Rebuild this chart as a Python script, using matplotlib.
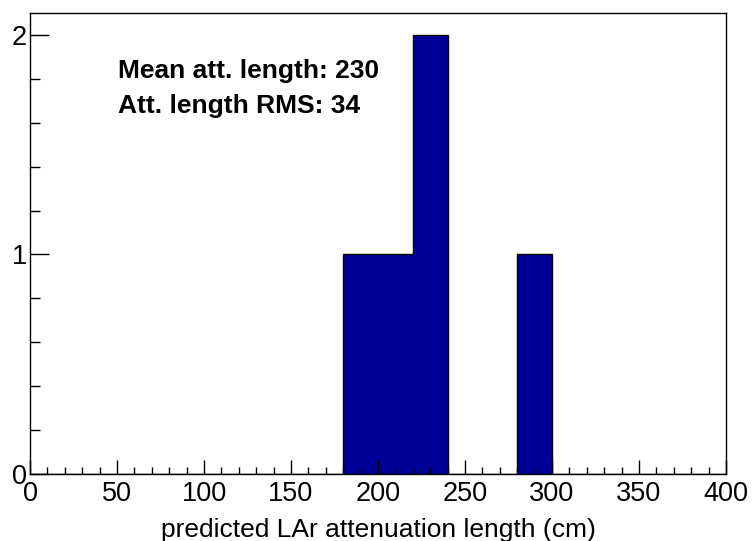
import matplotlib
matplotlib.use("Agg")
import matplotlib.pyplot as plt
from matplotlib.ticker import MultipleLocator

bin_edges = [0, 20, 40, 60, 80, 100, 120, 140, 160, 180, 200,
             220, 240, 260, 280, 300, 320, 340, 360, 380, 400]
counts = [0, 0, 0, 0, 0, 0, 0, 0, 0, 1, 1, 2, 0, 0, 1, 0, 0, 0, 0, 0]
x_label = "predicted LAr attenuation length (cm)"
stats_lines = ["Mean att. length: 230", "Att. length RMS: 34"]

plt.rcParams['font.family'] = ['Liberation Sans', 'DejaVu Sans']

W, H = 752, 541
fig = plt.figure(figsize=(W/100, H/100), dpi=100)
ax = fig.add_axes([30/W, 1 - 474/H, (726-30)/W, (474-13)/H])

ax.stairs(counts, bin_edges, fill=True, color='#000099', zorder=1)
ax.stairs(counts, bin_edges, fill=False, color='black', linewidth=1.0, zorder=1.2)

ax.set_xlim(0, 400)
ax.set_ylim(0, 2.1)

ax.xaxis.set_major_locator(MultipleLocator(50))
ax.xaxis.set_minor_locator(MultipleLocator(10))
ax.yaxis.set_major_locator(MultipleLocator(1))
ax.yaxis.set_minor_locator(MultipleLocator(0.2))

ax.tick_params(axis='x', which='major', direction='in', length=10, width=1, labelsize=19.5, pad=5)
ax.tick_params(axis='x', which='minor', direction='in', length=5, width=1)
ax.tick_params(axis='y', which='major', direction='in', length=13.5, width=1, labelsize=19.5, pad=2)
ax.tick_params(axis='y', which='minor', direction='in', length=7, width=1)
ax.tick_params(top=False, right=False, which='both')

for s in ax.spines.values():
    s.set_linewidth(1.0)
    s.set_color('black')

ax.set_xlabel(x_label, fontsize=19, va='baseline')
ax_h = (474 - 13)
ax.xaxis.set_label_coords(0.5, -(537 - 474) / ax_h)

for i, line in enumerate(stats_lines):
    ax.text(118, H - (78 + 35*i), line, transform=None, fontsize=19, fontweight='bold',
            ha='left', va='baseline')

fig.savefig("out.png", dpi=100)
